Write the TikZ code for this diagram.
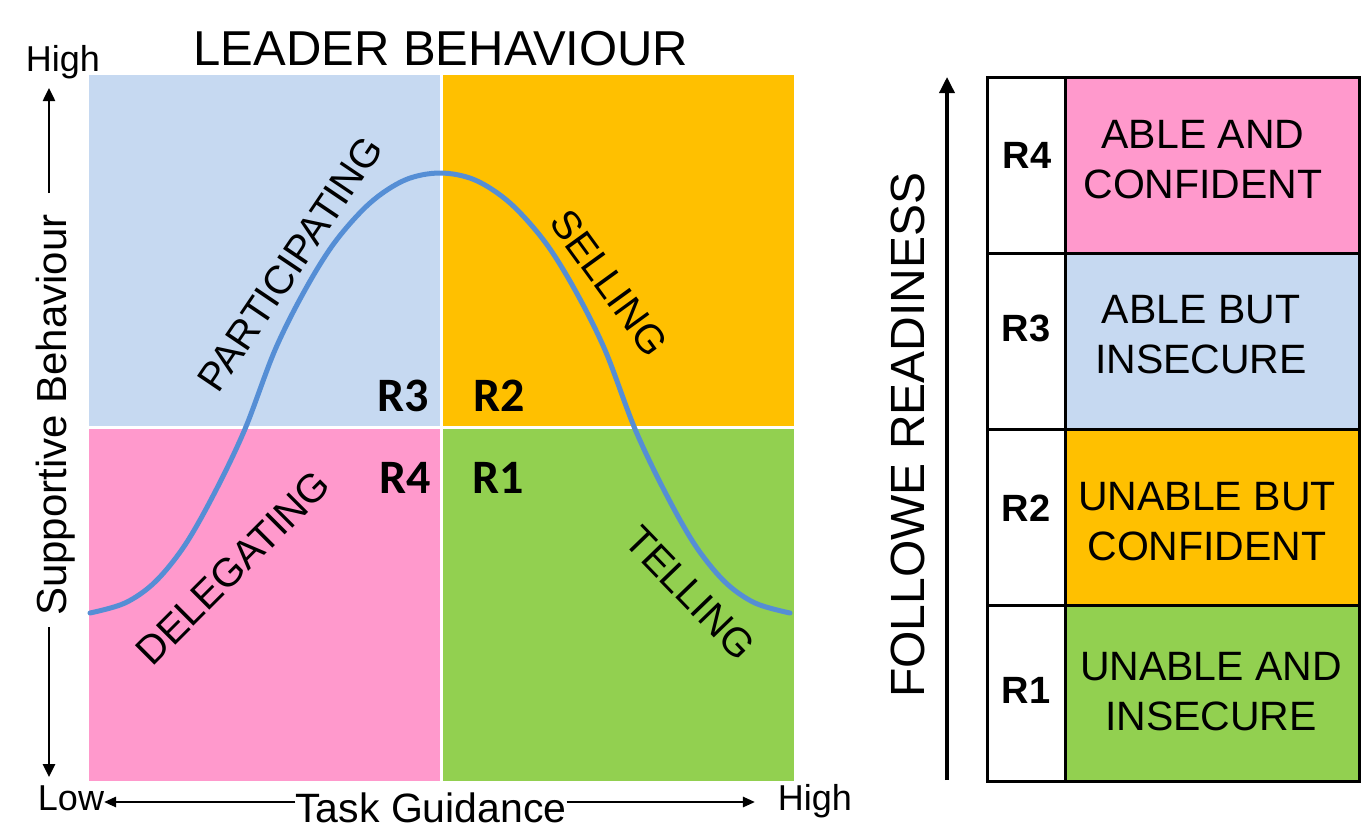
\documentclass[tikz,border=0pt]{standalone}
\usepackage{fontspec}
\setmainfont{Liberation Sans}
\newfontfamily\calibfont{Carlito}
\usetikzlibrary{arrows.meta}
\definecolor{qblue}{RGB}{198,217,241}
\definecolor{qorange}{RGB}{255,192,0}
\definecolor{qpink}{RGB}{255,153,204}
\definecolor{qgreen}{RGB}{146,208,80}
\definecolor{curveblue}{RGB}{85,142,213}
\newcommand\setfs[1]{\fontsize{#1}{#1}\selectfont}
\begin{document}
\begin{tikzpicture}[x=1pt,y=-1pt,
  lbl/.style={inner sep=0pt, outer sep=0pt},
  axline/.style={line width=2.5pt, -{Triangle[width=12pt,length=13pt]}},
  botline/.style={line width=2.5pt, -{Triangle[width=10pt,length=12pt]}},
  cellbox/.style={draw=black, line width=3pt},
  quadtxt/.style={lbl, font=\setfs{40}},
  rq/.style={lbl, font=\calibfont\bfseries\setfs{48}},
  rt/.style={lbl, font=\bfseries\setfs{38}},
  rowtxt/.style={lbl, align=center, font=\fontsize{41}{50}\selectfont}
]
\useasboundingbox (0,0) rectangle (1365,839);
\fill[white] (0,0) rectangle (1365,839);

% quadrants
\fill[qblue]   (89,75)  rectangle (440,426);
\fill[qorange] (443,75) rectangle (794,426);
\fill[qpink]   (89,429) rectangle (440,781);
\fill[qgreen]  (443,429) rectangle (794,781);

% bell curve
\draw[curveblue, line width=5pt, line cap=round] plot[smooth, tension=0.55] coordinates {
  (90,613) (125,603) (155,582) (185,545) (215,492) (245,429) (275,350) (305,290) (335,242)
  (370,203) (405,180) (440,173) (475,180) (510,203) (545,242) (575,290) (605,350)
  (635,429) (665,492) (695,545) (725,582) (755,603) (790,613)};

% title and axis texts
\node[lbl, anchor=base, font=\setfs{49}] (title) at (441,65) {LEADER BEHAVIOUR};
\node[lbl, anchor=base, font=\setfs{36}] (hiy) at (63,71) {High};
\node[lbl, rotate=90, font=\setfs{42}] (sb) at (56,415) {Supportive Behaviour};
\coordinate (sbTop) at (49,193);
\coordinate (sbBot) at (49,627);
\coordinate (yTip) at (49,88);
\coordinate (yLow) at (49,777);
\draw[axline] (sbTop) -- (yTip);
\draw[axline] (sbBot) -- (yLow);

\node[lbl, anchor=base, font=\setfs{36}] (low) at (71,810) {Low};
\node[lbl, anchor=base, font=\setfs{41}] (tg) at (431,822) {Task Guidance};
\node[lbl, anchor=base, font=\setfs{36}] (hix) at (815,810) {High};
\coordinate (axY) at (0,802);
\draw[botline] (tg.west |- axY) -- (low.east |- axY);
\draw[botline, shorten >=23pt] (tg.east |- axY) -- (hix.west |- axY);

% quadrant labels
\node[quadtxt, rotate=56] (part) at (290,264) {PARTICIPATING};
\node[quadtxt, rotate=-54] (sell) at (609,283) {SELLING};
\node[quadtxt, rotate=45] (dele) at (233,568) {DELEGATING};
\node[quadtxt, rotate=-46] (tell) at (690,593) {TELLING};

\node[rq] (q3) at (403,396) {R3};
\node[rq] (q2) at (499,396) {R2};
\node[rq] (q4) at (405,478) {R4};
\node[rq] (q1) at (498,478) {R1};

% follower readiness
\node[lbl, rotate=90, font=\setfs{48}] (fr) at (908,435) {FOLLOWE READINESS};
\coordinate (frBot) at (947,780);
\coordinate (frTop) at (947,77);
\draw[line width=3.5pt, -{Triangle[width=15pt,length=16pt]}] (frBot) -- (frTop);

% table
\draw[cellbox, fill=white]  (987,77)  rectangle (1065,253);
\draw[cellbox, fill=qpink]  (1065,77) rectangle (1359,253);
\draw[cellbox, fill=white]  (987,253) rectangle (1065,429);
\draw[cellbox, fill=qblue]  (1065,253) rectangle (1359,429);
\draw[cellbox, fill=white]  (987,429) rectangle (1065,605);
\draw[cellbox, fill=qorange] (1065,429) rectangle (1359,605);
\draw[cellbox, fill=white]  (987,605) rectangle (1065,781);
\draw[cellbox, fill=qgreen] (1065,605) rectangle (1359,781);

\node[rt] (t4) at (1027,155) {R4};
\node[rt] (t3) at (1026,328) {R3};
\node[rt] (t2) at (1026,508) {R2};
\node[rt] (t1) at (1026,690) {R1};

\node[rowtxt] (d4) at (1203,160) {ABLE AND\\CONFIDENT};
\node[rowtxt] (d3) at (1201,335) {ABLE BUT\\INSECURE};
\node[rowtxt] (d2) at (1207,522) {UNABLE BUT\\CONFIDENT};
\node[rowtxt] (d1) at (1211,692) {UNABLE AND\\INSECURE};
\end{tikzpicture}
\end{document}
